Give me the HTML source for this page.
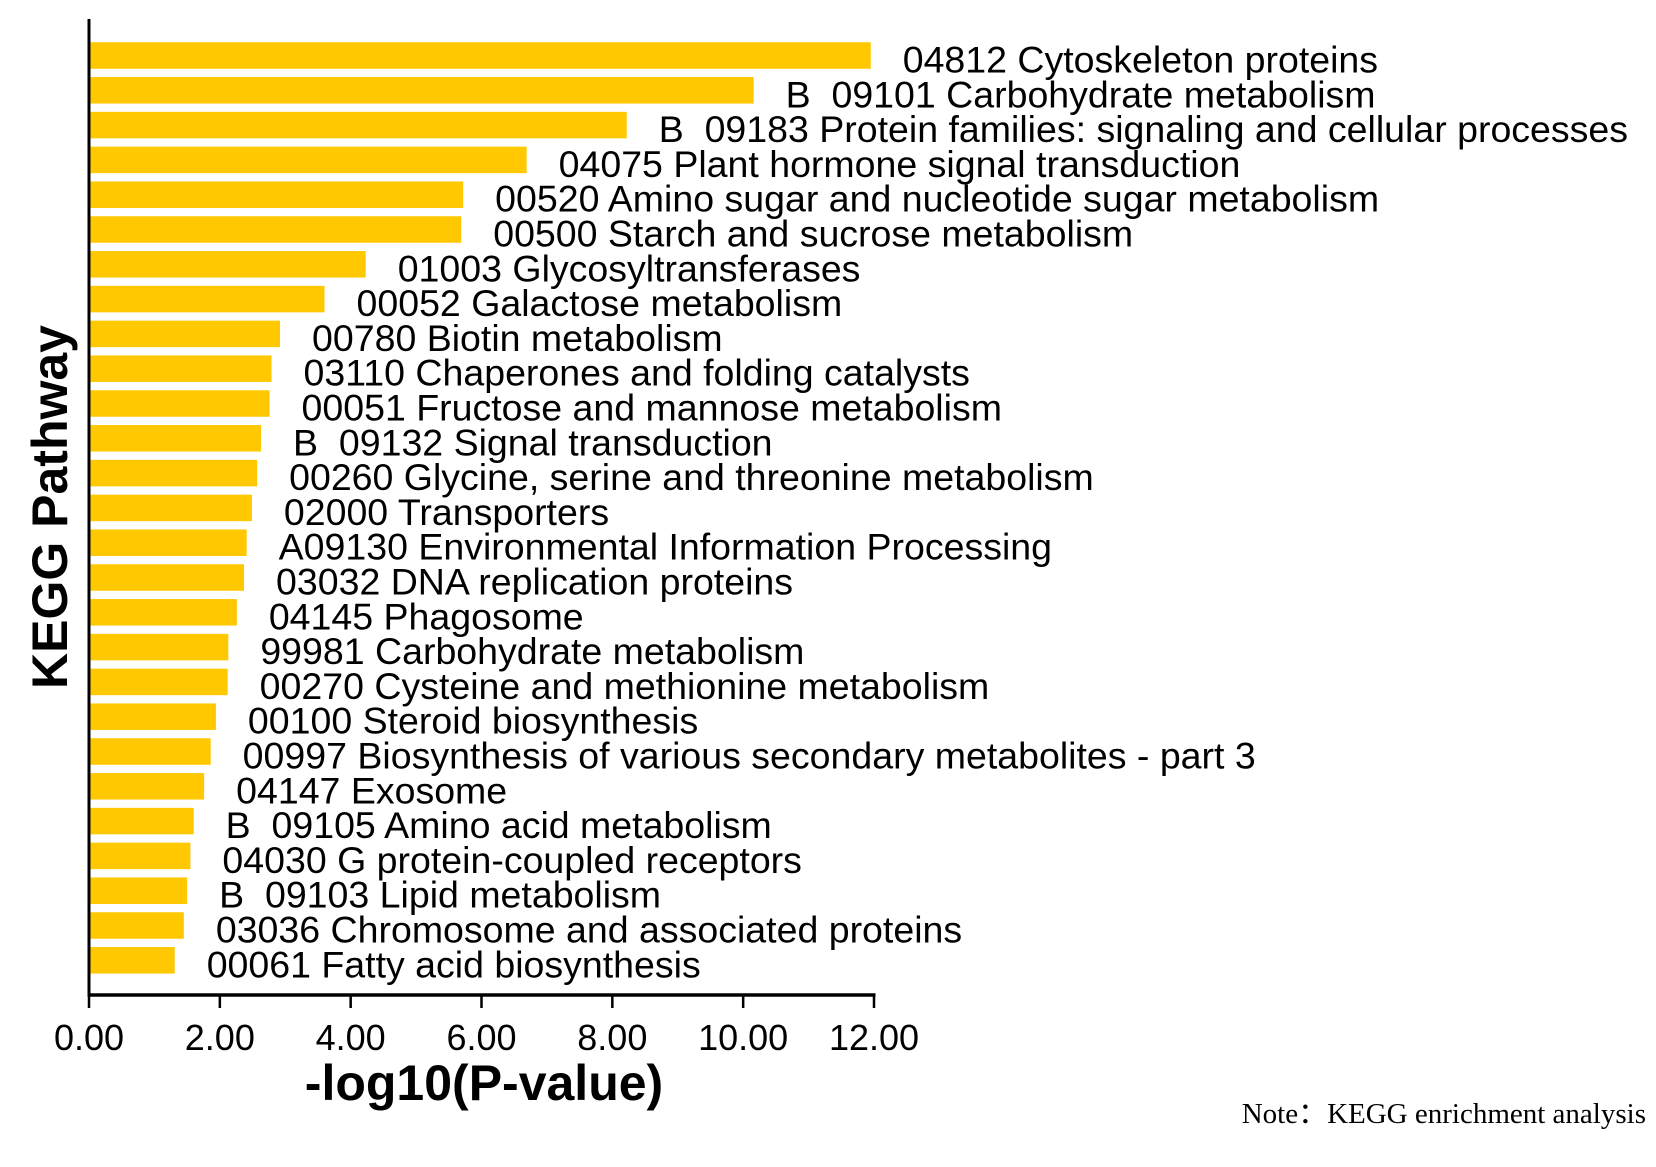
<!DOCTYPE html>
<html><head><meta charset="utf-8"><style>
html,body{margin:0;padding:0;background:#fff;}
svg{display:block;font-family:"Liberation Sans",Arial,sans-serif;}
text{white-space:pre;}
</style></head><body>
<svg id="chart" width="1656" height="1167" viewBox="0 0 1656 1167" xmlns="http://www.w3.org/2000/svg" xml:space="preserve">
<g id="bars"></g>
<g id="labels"></g>
<g id="axes"></g>
<text x="484" y="1100" font-size="50" font-weight="bold" text-anchor="middle">-log10(P-value)</text>
<text transform="translate(67,507) rotate(-90)" font-size="50" font-weight="bold" text-anchor="middle">KEGG Pathway</text>
<text x="1646" y="1123" font-size="29" text-anchor="end" font-family="Liberation Serif, serif">Note：KEGG enrichment analysis</text>
</svg>
<script>
const categories = ["04812 Cytoskeleton proteins","B  09101 Carbohydrate metabolism","B  09183 Protein families: signaling and cellular processes","04075 Plant hormone signal transduction","00520 Amino sugar and nucleotide sugar metabolism","00500 Starch and sucrose metabolism","01003 Glycosyltransferases","00052 Galactose metabolism","00780 Biotin metabolism","03110 Chaperones and folding catalysts","00051 Fructose and mannose metabolism","B  09132 Signal transduction","00260 Glycine, serine and threonine metabolism","02000 Transporters","A09130 Environmental Information Processing","03032 DNA replication proteins","04145 Phagosome","99981 Carbohydrate metabolism","00270 Cysteine and methionine metabolism","00100 Steroid biosynthesis","00997 Biosynthesis of various secondary metabolites - part 3","04147 Exosome","B  09105 Amino acid metabolism","04030 G protein-coupled receptors","B  09103 Lipid metabolism","03036 Chromosome and associated proteins","00061 Fatty acid biosynthesis"];
const values = [11.95,10.16,8.22,6.69,5.72,5.69,4.23,3.60,2.92,2.79,2.76,2.63,2.57,2.49,2.41,2.37,2.26,2.13,2.12,1.94,1.86,1.76,1.60,1.55,1.50,1.45,1.31];
const xTicks = [0,2,4,6,8,10,12];
const xTickLabels = ["0.00","2.00","4.00","6.00","8.00","10.00","12.00"];

const NS="http://www.w3.org/2000/svg";
const X0=89, X1=874, XMAX=12, YTOP=19, YAX=995;
const firstC=55.5, step=34.8, barH=26.5;
function xs(v){return X0+(v/XMAX)*(X1-X0);}
function yc(i){return firstC+i*step;}
function mk(t,a,p){const e=document.createElementNS(NS,t);for(const k in a)e.setAttribute(k,a[k]);p.appendChild(e);return e;}
const gb=document.getElementById('bars'),gl=document.getElementById('labels'),ga=document.getElementById('axes');
values.forEach((v,i)=>{
  const r=mk('rect',{x:X0,y:yc(i)-barH/2,width:xs(v)-X0,height:barH,fill:'#FFC800'},gb);
  
  
  const t=mk('text',{x:xs(v)+32,y:yc(i)+17,'font-size':37.5},gl);
  
  
  t.textContent=categories[i];
});
const ya=mk('line',{x1:X0,y1:YTOP,x2:X0,y2:YAX,stroke:'#000','stroke-width':3},ga);


const xa=mk('line',{x1:X0-1.5,y1:YAX,x2:X1+1.5,y2:YAX,stroke:'#000','stroke-width':3.5},ga);


xTicks.forEach((v,i)=>{
  const l=mk('line',{x1:xs(v),y1:YAX,x2:xs(v),y2:YAX+13,stroke:'#000','stroke-width':2.5},ga);
  
  
  const t=mk('text',{x:xs(v),y:1050,'font-size':36,'text-anchor':'middle'},ga);
  
  
  t.textContent=xTickLabels[i];
});
</script>
</body></html>
